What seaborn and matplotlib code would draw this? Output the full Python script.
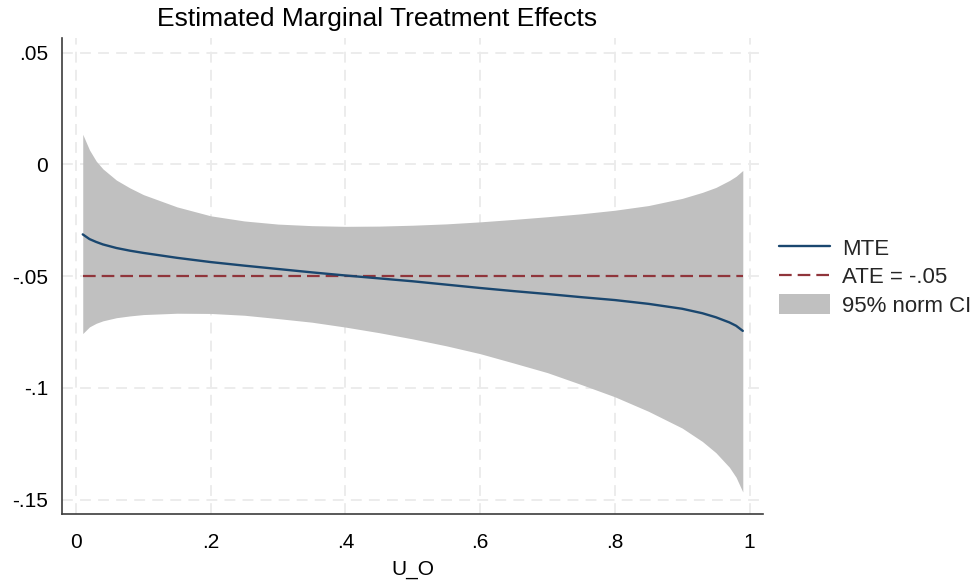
import numpy as np
import pandas as pd
import matplotlib
matplotlib.use("Agg")
import matplotlib.pyplot as plt
import seaborn as sns
from matplotlib.patches import Patch
from matplotlib.lines import Line2D

# ---- data ----
u_o = [0.01, 0.02, 0.03, 0.04, 0.06, 0.08, 0.10, 0.15, 0.20, 0.25, 0.30, 0.35, 0.40,
       0.45, 0.50, 0.55, 0.60, 0.65, 0.70, 0.75, 0.80, 0.85, 0.90, 0.93, 0.95,
       0.97, 0.98, 0.99]
mte = [-0.0313, -0.0334, -0.0347, -0.0358, -0.0374, -0.0386, -0.0396, -0.0418, -0.0437,
       -0.0453, -0.0468, -0.0483, -0.0497, -0.0510, -0.0523, -0.0538, -0.0553,
       -0.0567, -0.0580, -0.0594, -0.0607, -0.0624, -0.0646, -0.0666, -0.0684,
       -0.0707, -0.0722, -0.0745]
ci_upper = [0.0135, 0.0065, 0.0015, -0.0020, -0.0070, -0.0105, -0.0135, -0.0190, -0.0230,
            -0.0253, -0.0267, -0.0274, -0.0277, -0.0276, -0.0272, -0.0266, -0.0257,
            -0.0246, -0.0234, -0.0221, -0.0205, -0.0184, -0.0152, -0.0125, -0.0103,
            -0.0072, -0.0053, -0.0027]
ci_lower = [-0.0757, -0.0727, -0.0711, -0.0700, -0.0686, -0.0678, -0.0672, -0.0666, -0.0667,
            -0.0675, -0.0690, -0.0706, -0.0728, -0.0753, -0.0781, -0.0812, -0.0847,
            -0.0889, -0.0932, -0.0985, -0.1040, -0.1105, -0.1180, -0.1240, -0.1290,
            -0.1355, -0.1400, -0.1466]
ate = -0.05

x_ticks = [0, 0.2, 0.4, 0.6, 0.8, 1.0]
x_tick_labels = ["0", ".2", ".4", ".6", ".8", "1"]
y_ticks = [0.05, 0, -0.05, -0.1, -0.15]
y_tick_labels = [".05", "0", "-.05", "-.1", "-.15"]

title = "Estimated Marginal Treatment Effects"
x_label = "U_O"
legend_labels = ["MTE", "ATE = -.05", "95% norm CI"]

df = pd.DataFrame({"u_o": u_o, "mte": mte, "lo": ci_lower, "hi": ci_upper})
df["ate"] = ate

# ---- styling ----
sns.set_theme(style="white")
plt.rcParams["font.family"] = ["Liberation Sans", "DejaVu Sans"]

navy = "#1a476f"
maroon = "#90353b"
band = "#c0c0c0"
grid_c = "#ebebeb"
spine_c = "#3c3c3c"
ate_dash = (5.7, 2.7)

fig = plt.figure(figsize=(9.76, 5.83), dpi=100)
ax = fig.add_axes([62 / 976, 1 - 514.3 / 583, (763 - 62) / 976, (514.3 - 38) / 583])

ax.fill_between(df["u_o"], df["lo"], df["hi"], color=band, linewidth=0, zorder=2)
sns.lineplot(data=df, x="u_o", y="ate", ax=ax, color=maroon, linewidth=1.6,
             dashes=False, zorder=3).lines[-1].set_dashes(ate_dash)
sns.lineplot(data=df, x="u_o", y="mte", ax=ax, color=navy, linewidth=1.7, zorder=4)

ax.set_xlim(-0.0208, 1.02)
ax.set_ylim(-0.1566, 0.0566)
ax.set_xticks(x_ticks)
ax.set_xticklabels(x_tick_labels)
ax.set_yticks(y_ticks)
ax.set_yticklabels(y_tick_labels)

ax.grid(True, color=grid_c, linewidth=1.3, linestyle=(0, (6, 4)), zorder=0)
ax.set_axisbelow(True)

for s in ["top", "right"]:
    ax.spines[s].set_visible(False)
for s in ["left", "bottom"]:
    ax.spines[s].set_color(spine_c)
    ax.spines[s].set_linewidth(1.2)

ax.tick_params(axis="both", which="both", direction="out", length=6.5, width=1.0,
               color=spine_c, labelsize=15, labelcolor="black")
ax.tick_params(axis="y", pad=3.5)
ax.tick_params(axis="x", pad=7)

ax.set_xlabel(x_label, fontsize=15, color="black", labelpad=6)
ax.set_ylabel("")

fig.text(377 / 976, 1 - 19 / 583, title, ha="center", va="center",
         fontsize=19, color="black")

handles = [
    Line2D([0], [0], color=navy, linewidth=1.7),
    Line2D([0], [0], color=maroon, linewidth=1.6, dashes=ate_dash),
    Patch(facecolor=band, edgecolor="none"),
]
fig.legend(handles, legend_labels, loc="center left",
           bbox_to_anchor=(763 / 976, 1 - 277 / 583), frameon=False,
           fontsize=16, handlelength=2.3, handleheight=0.95, handletextpad=0.55,
           labelspacing=0.28, borderpad=0.2)

fig.savefig("out.png", dpi=100, facecolor="white")
